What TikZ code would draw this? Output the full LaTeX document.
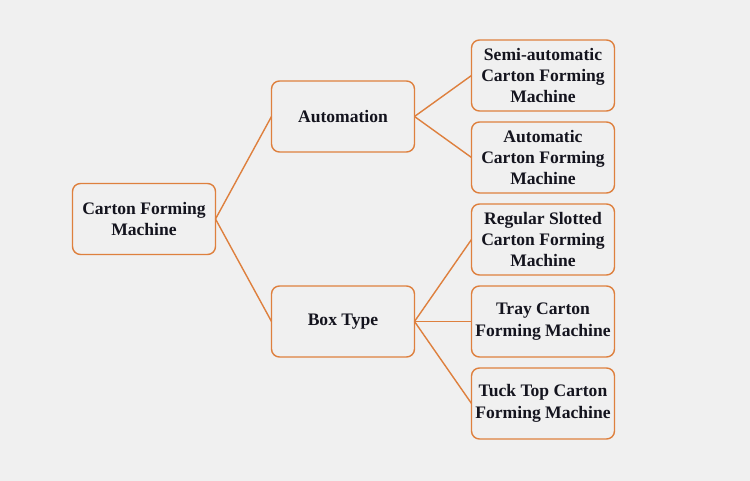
\documentclass[tikz,border=0pt]{standalone}
\usepackage{fontspec}
\setmainfont{Liberation Serif}
\usetikzlibrary{positioning,calc}
\definecolor{cartonOrange}{RGB}{222, 128, 62}
\definecolor{cartonBack}{RGB}{240, 240, 240}
\definecolor{cartonText}{RGB}{20, 20, 30}

\begin{document}
\begin{tikzpicture}[
  node distance=0.22cm,
  box/.style={draw=cartonOrange, line width=0.8pt, rounded corners=0.16cm,
              fill=cartonBack, align=center, minimum width=2.86cm,
              minimum height=1.42cm, inner sep=1pt, outer sep=0pt,
              text=cartonText,
              font=\bfseries\fontsize{10}{12.2}\selectfont},
  link/.style={draw=cartonOrange, line width=0.8pt}
]
\fill[cartonBack] (0,0) rectangle (15,-9.62);
\useasboundingbox (0,0) rectangle (15,-9.62);
\node[box] (semi) at (10.86,-1.51) {Semi-automatic\\Carton Forming\\Machine};
\node[box, below=of semi] (auto) {Automatic\\Carton Forming\\Machine};
\node[box, below=of auto] (slotted) {Regular Slotted\\Carton Forming\\Machine};
\node[box, below=of slotted] (tray) {Tray Carton\\Forming Machine};
\node[box, below=of tray] (tuck) {Tuck Top Carton\\Forming Machine};
\node[box, left=1.14cm of $(semi.west)!0.5!(auto.west)$] (automation) {Automation};
\node[box, left=1.14cm of tray.west] (boxtype) {Box Type};
\node[box, left=1.12cm of $(automation.west)!0.5!(boxtype.west)$] (machine) {Carton Forming\\Machine};
\draw[link] (machine.east) -- (automation.west);
\draw[link] (machine.east) -- (boxtype.west);
\draw[link] (automation.east) -- (semi.west);
\draw[link] (automation.east) -- (auto.west);
\draw[link] (boxtype.east) -- (slotted.west);
\draw[link] (boxtype.east) -- (tray.west);
\draw[link] (boxtype.east) -- (tuck.west);
\end{tikzpicture}
\end{document}
